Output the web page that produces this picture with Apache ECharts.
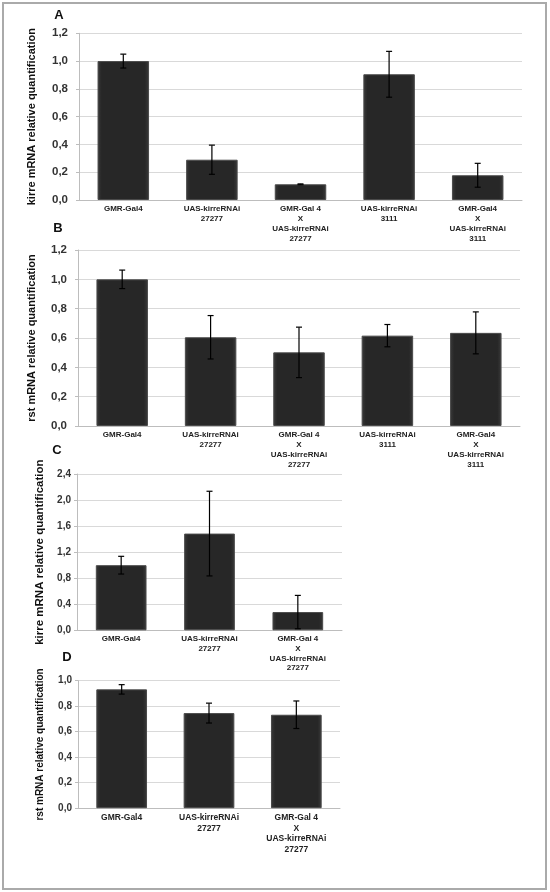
<!DOCTYPE html>
<html><head><meta charset="utf-8">
<script src="https://cdn.jsdelivr.net/npm/echarts@6/dist/echarts.min.js"></script>
<style>html,body{margin:0;padding:0;background:#fff}#c{width:550px;height:892px}</style>
</head><body><div id="c"></div>
<script>
// ---- data ----
const catsA = ['GMR-Gal4', 'UAS-kirreRNAi\n27277', 'GMR-Gal 4\nX\nUAS-kirreRNAi\n27277', 'UAS-kirreRNAi\n3111', 'GMR-Gal4\nX\nUAS-kirreRNAi\n3111'];
const valsA = [1.0, 0.29, 0.113, 0.905, 0.178];
const errA  = [0.05, 0.105, 0.003, 0.165, 0.086];

const catsB = ['GMR-Gal4', 'UAS-kirreRNAi\n27277', 'GMR-Gal 4\nX\nUAS-kirreRNAi\n27277', 'UAS-kirreRNAi\n3111', 'GMR-Gal4\nX\nUAS-kirreRNAi\n3111'];
const valsB = [1.0, 0.605, 0.502, 0.616, 0.635];
const errB  = [0.063, 0.148, 0.172, 0.076, 0.143];

const catsC = ['GMR-Gal4', 'UAS-kirreRNAi\n27277', 'GMR-Gal 4\nX\nUAS-kirreRNAi\n27277'];
const valsC = [1.0, 1.485, 0.28];
const errC  = [0.136, 0.65, 0.256];

const catsD = ['GMR-Gal4', 'UAS-kirreRNAi\n27277', 'GMR-Gal 4\nX\nUAS-kirreRNAi\n27277'];
const valsD = [0.932, 0.746, 0.733];
const errD  = [0.037, 0.078, 0.108];

const yTitleA = 'kirre mRNA relative quantification';
const yTitleB = 'rst mRNA relative quantification';
const yTitleC = 'kirre mRNA relative quantification';
const yTitleD = 'rst mRNA relative quantification';
const panelLetters = ['A', 'B', 'C', 'D'];

// ---- chart ----
const FONT = 'Liberation Sans, Arial, sans-serif';
const chart = echarts.init(document.getElementById('c'), null, {renderer: 'canvas'});

const grids = [
  {left: 79, top: 33.3, width: 443, height: 166.7},
  {left: 78, top: 250, width: 442, height: 176},
  {left: 77, top: 474, width: 265, height: 156.3},
  {left: 78, top: 680.7, width: 262, height: 127.5}
];
const panels = [
  {cats: catsA, vals: valsA, err: errA, title: yTitleA, max: 1.2, interval: 0.2, yFont: 11.5, yMargin: 11, tFont: 11, tGap: 42, cFont: 8, lh: 10, bw: 51.5},
  {cats: catsB, vals: valsB, err: errB, title: yTitleB, max: 1.2, interval: 0.2, yFont: 11.5, yMargin: 11, tFont: 11, tGap: 41, cFont: 8, lh: 10, bw: 51.5},
  {cats: catsC, vals: valsC, err: errC, title: yTitleC, max: 2.4, interval: 0.4, yFont: 10, yMargin: 6, tFont: 11.5, tGap: 31, cFont: 8, lh: 9.6, bw: 50.7},
  {cats: catsD, vals: valsD, err: errD, title: yTitleD, max: 1.0, interval: 0.2, yFont: 10, yMargin: 6, tFont: 10, tGap: 33, cFont: 8.5, lh: 10.7, bw: 50.7}
];

const xAxis = [], yAxis = [], series = [];
panels.forEach((p, i) => {
  xAxis.push({
    type: 'category', gridIndex: i, data: p.cats,
    axisLine: {lineStyle: {color: '#bdbdbd', width: 1}},
    axisTick: {show: false},
    axisLabel: {interval: 0, fontFamily: FONT, fontSize: p.cFont, fontWeight: 'bold', color: '#222', lineHeight: p.lh, margin: 4}
  });
  yAxis.push({
    type: 'value', gridIndex: i, min: 0, max: p.max, interval: p.interval,
    name: p.title, nameLocation: 'middle', nameGap: p.tGap,
    nameTextStyle: {fontFamily: FONT, fontSize: p.tFont, fontWeight: 'bold', color: '#111'},
    axisLine: {show: true, lineStyle: {color: '#bdbdbd', width: 1}},
    axisTick: {show: true, length: 3, lineStyle: {color: '#bdbdbd'}},
    splitLine: {lineStyle: {color: '#d9d9d9', width: 1}},
    axisLabel: {fontFamily: FONT, fontSize: p.yFont, fontWeight: 'bold', color: '#333', margin: p.yMargin,
      formatter: v => v.toFixed(1).replace('.', ',')}
  });
  series.push({
    type: 'bar', xAxisIndex: i, yAxisIndex: i, data: p.vals, barWidth: p.bw,
    itemStyle: {
      color: new echarts.graphic.LinearGradient(0, 0, 1, 0, [
        {offset: 0, color: '#3a3a3a'}, {offset: 0.08, color: '#272727'},
        {offset: 0.92, color: '#272727'}, {offset: 1, color: '#3a3a3a'}]),
      borderColor: '#4a4a4a', borderWidth: 1
    },
    silent: true
  });
  series.push({
    type: 'custom', xAxisIndex: i, yAxisIndex: i,
    data: p.vals.map((v, k) => [k, v - p.err[k], v + p.err[k]]),
    renderItem: function (params, api) {
      const x = api.value(0);
      const lo = api.coord([x, api.value(1)]);
      const hi = api.coord([x, api.value(2)]);
      const cap = 3;
      const st = {stroke: '#000', lineWidth: 1.2};
      return {type: 'group', children: [
        {type: 'line', shape: {x1: hi[0], y1: hi[1], x2: lo[0], y2: lo[1]}, style: st},
        {type: 'line', shape: {x1: hi[0] - cap, y1: hi[1], x2: hi[0] + cap, y2: hi[1]}, style: st},
        {type: 'line', shape: {x1: lo[0] - cap, y1: lo[1], x2: lo[0] + cap, y2: lo[1]}, style: st}
      ]};
    },
    z: 5, silent: true
  });
});

const letterPos = [[59, 15], [58, 228], [57, 450], [67, 657]];
const graphic = [
  {type: 'rect', shape: {x: 3, y: 3, width: 543, height: 886}, style: {fill: 'none', stroke: '#aaaaaa', lineWidth: 2}, silent: true}
];
panelLetters.forEach((L, i) => {
  graphic.push({type: 'text', x: letterPos[i][0], y: letterPos[i][1],
    style: {text: L, fontFamily: FONT, fontSize: 13, fontWeight: 'bold', fill: '#111', align: 'center', verticalAlign: 'middle'}});
});

chart.setOption({
  animation: false,
  backgroundColor: '#fff',
  grid: grids,
  xAxis, yAxis, series, graphic
});
</script></body></html>
